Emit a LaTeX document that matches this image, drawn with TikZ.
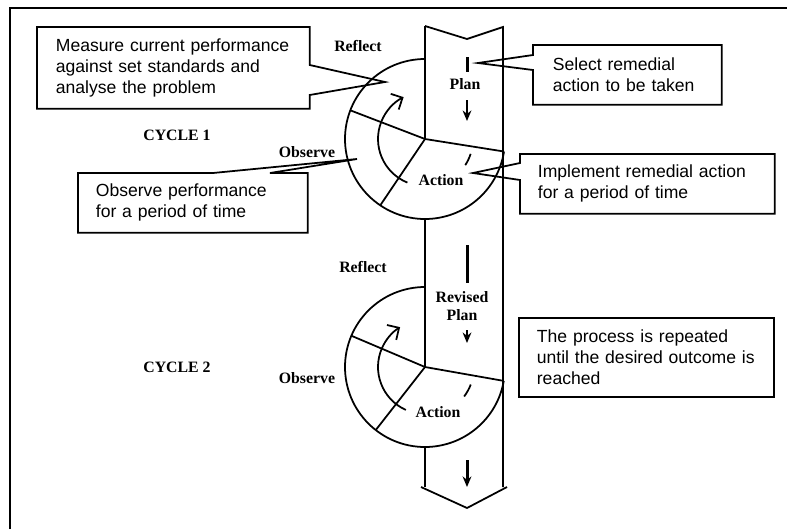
\documentclass[tikz,border=0pt]{standalone}
\usepackage{fontspec}
\setmainfont{Liberation Serif}
\setsansfont{Liberation Sans}
\usetikzlibrary{arrows.meta}

\begin{document}
\begin{tikzpicture}[x=0.02cm, y=0.02cm, line width=1pt,
    lbl/.style={font=\bfseries\fontsize{9}{10}\selectfont, inner sep=1pt},
    note/.style={font=\sffamily\fontsize{10}{12}\selectfont, align=left, anchor=north west},
    down/.style={-{Stealth[length=6pt, width=5pt]}, line width=0.9pt}]
   \useasboundingbox (0,0) rectangle (787,529);
   \draw (10,0) -- (10,521) -- (787,521);

   \coordinate (c1) at (425,390);
   \coordinate (c2) at (425,162);

   % the band
   \draw (425,503) -- (467,490) -- (503,502) -- (503,42);
   \draw (425,503) -- (c1);
   \draw (425,310) -- (c2);
   \draw (425,82) -- (425,42);
   \draw (421,42) -- (467,21) -- (507,42);

   % cycle 1
   \draw (425,470) arc[start angle=90, end angle=351, radius=80];
   \draw (c1) -- ++(-9:80);
   \draw (c1) -- ++(159:80);
   \draw (c1) -- ++(236:80);
   \draw[-{Straight Barb[length=5pt]}] (c1) ++(248:47) arc[start angle=248, end angle=117, radius=47];
   \draw (c1) ++(-18:48) arc[start angle=-18, end angle=-33, radius=48];

   % cycle 2
   \draw (425,242) arc[start angle=90, end angle=350, radius=80];
   \draw (c2) -- ++(-10:80);
   \draw (c2) -- ++(157:80);
   \draw (c2) -- ++(232:80);
   \draw[-{Straight Barb[length=5pt]}] (c2) ++(246:47) arc[start angle=246, end angle=122, radius=47];
   \draw (c2) ++(-21:49) arc[start angle=-21, end angle=-37, radius=49];

   \draw[line width=1.7pt] (467,472) -- (467,457);
   \draw[down] (467,429) -- (467,408);
   \draw[line width=1.7pt] (467,284) -- (467,246);
   \draw[down] (467,199) -- (467,186);
   \draw[down, line width=1.7pt] (467,69) -- (467,42);

   \node[lbl] (reflect1) at (358,483) {Reflect};
   \node[lbl] (observe1) at (307,377) {Observe};
   \node[lbl] (action1) at (441,349) {Action};
   \node[lbl] (cycle1) at (177,394) {CYCLE 1};
   \node[lbl] (plan1) at (465,445) {Plan};
   \node[lbl] (reflect2) at (363,262) {Reflect};
   \node[lbl] (observe2) at (307,151) {Observe};
   \node[lbl] (action2) at (438,117) {Action};
   \node[lbl] (cycle2) at (177,162) {CYCLE 2};
   \node[lbl, align=center] (plan2) at (462,223) {Revised\\Plan};

   \node[note, text width=4.7cm, inner xsep=0.36cm, minimum height=1.6cm] (measure) at (37,502)
      {Measure current performance\\against set standards and\\analyse the problem};
   \coordinate (measurepin) at (385,447);
   \draw (measure.north west) -- (measure.north east) -- (measure.east |- 0,464) -- (measurepin)
      -- (measure.east |- 0,434) -- (measure.south east) -- (measure.south west) -- cycle;

   \node[note, text width=3.88cm, inner xsep=0.34cm, minimum height=1.16cm] (watch) at (78,356)
      {Observe performance\\for a period of time};
   \coordinate (watchpin) at (357,370);
   \draw (watch.north west) -- (watch.north -| 213,0) -- (watchpin) -- (watch.north -| 270,0)
      -- (watch.north east) -- (watch.south east) -- (watch.south west) -- cycle;

   \node[note, text width=2.98cm, inner xsep=0.38cm, minimum height=1.16cm] (select) at (533,484)
      {Select remedial\\action to be taken};
   \coordinate (selectpin) at (478,466);
   \draw (select.north west) -- (select.north east) -- (select.south east) -- (select.south west)
      -- (select.west |- 0,459) -- (selectpin) -- (select.west |- 0,474) -- cycle;

   \node[note, text width=4.38cm, inner xsep=0.34cm, minimum height=1.16cm] (implement) at (520,375)
      {Implement remedial action\\for a period of time};
   \coordinate (implementpin) at (473,356);
   \draw (implement.north west) -- (implement.north east) -- (implement.south east) -- (implement.south west)
      -- (implement.west |- 0,349) -- (implementpin) -- (implement.west |- 0,366) -- cycle;

   \node[note, draw, text width=4.38cm, inner xsep=0.36cm, minimum height=1.58cm] (again) at (518,212)
      {The process is repeated\\until the desired outcome is\\reached};
\end{tikzpicture}
\end{document}
